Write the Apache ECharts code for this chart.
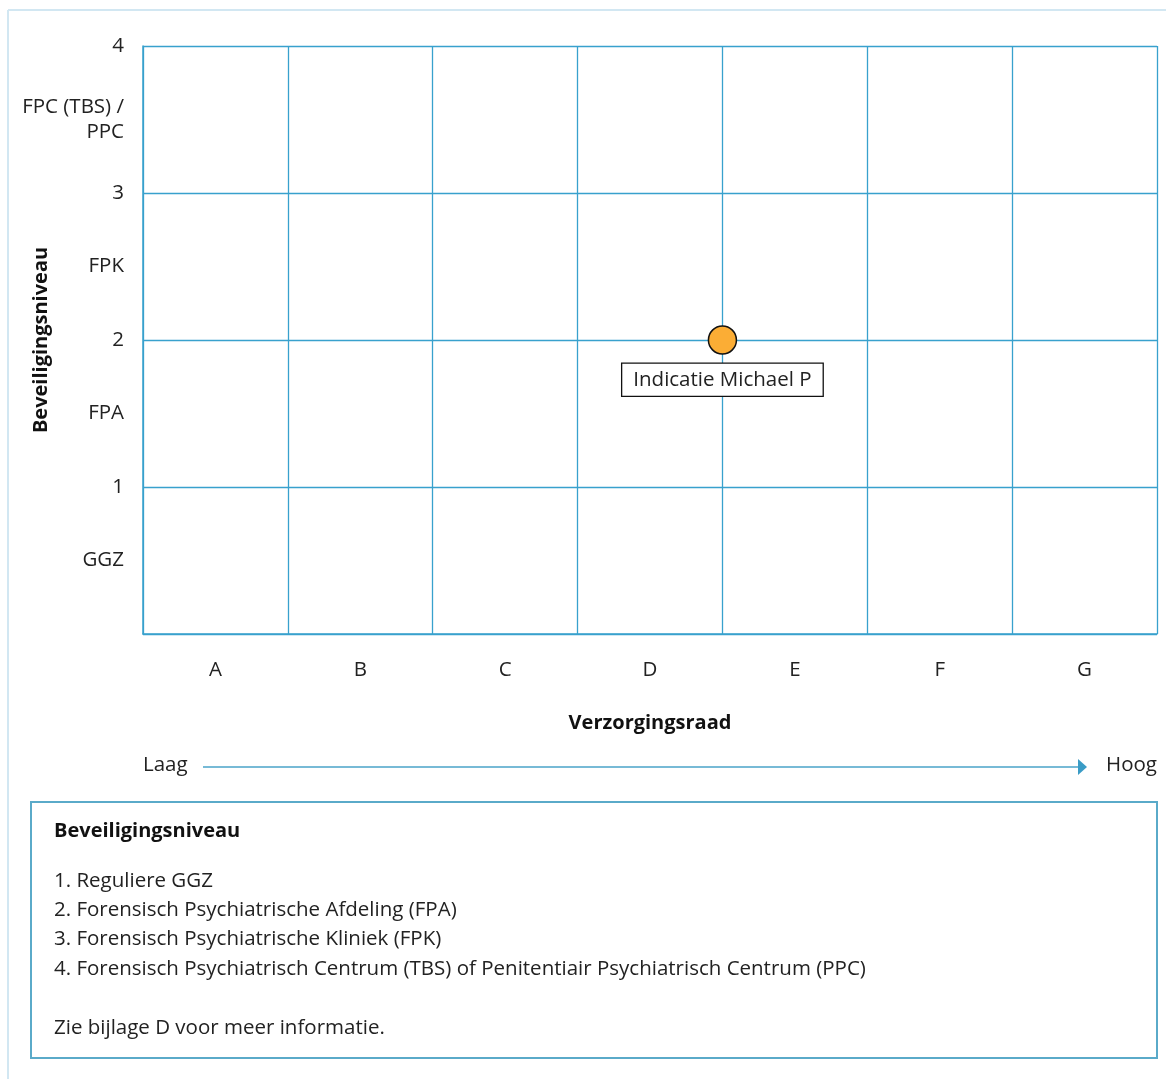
<!DOCTYPE html>
<html>
<head>
<meta charset="utf-8">
<script src="https://cdn.jsdelivr.net/npm/echarts@6/dist/echarts.min.js"></script>
<style>
html,body{margin:0;padding:0;background:#fff;}
#chart{width:1166px;height:1079px;}
</style>
</head>
<body>
<div id="chart"></div>
<script>
// ---- data ----
const xCategories = ['A', 'B', 'C', 'D', 'E', 'F', 'G'];
const yTickLabels = { 1: '1', 2: '2', 3: '3', 4: '4' };
const yLevelLabels = { 0.5: 'GGZ', 1.5: 'FPA', 2.5: 'FPK', 3.5: 'FPC (TBS) /\nPPC' };
const pointName = 'Indicatie Michael P';
const pointX = [4];
const pointY = [2];
const xAxisTitle = 'Verzorgingsraad';
const yAxisTitle = 'Beveiligingsniveau';
const scaleLow = 'Laag';
const scaleHigh = 'Hoog';
const legendTitle = 'Beveiligingsniveau';
const legendLines = [
  '1. Reguliere GGZ',
  '2. Forensisch Psychiatrische Afdeling (FPA)',
  '3. Forensisch Psychiatrische Kliniek (FPK)',
  '4. Forensisch Psychiatrisch Centrum (TBS) of Penitentiair Psychiatrisch Centrum (PPC)',
  '',
  'Zie bijlage D voor meer informatie.'
];

const FONT = '"Open Sans", "Noto Sans", sans-serif';
const GRIDC = '#38a1cd';
const TXT = '#222';
const FS = 20.5;
const FSB = 20;

const chart = echarts.init(document.getElementById('chart'), null, {renderer: 'canvas'});
const option = {
  backgroundColor: '#fff',
  animation: false,
  textStyle: {fontFamily: FONT},
  grid: {left: 143, top: 46, right: 9, bottom: 445, show: false, containLabel: false, outerBoundsMode: 'none'},
  xAxis: [
    {
      type: 'value', min: 0, max: 7, interval: 1,
      axisLabel: {show: false}, axisTick: {show: false},
      axisLine: {show: true, lineStyle: {color: GRIDC, width: 1.5}},
      splitLine: {show: true, lineStyle: {color: GRIDC, width: 1.3}}
    },
    {
      type: 'category', data: xCategories, position: 'bottom', boundaryGap: true,
      axisLine: {show: false}, axisTick: {show: false}, splitLine: {show: false},
      axisLabel: {color: TXT, fontSize: FS, fontFamily: FONT, margin: 26},
      name: xAxisTitle, nameLocation: 'middle', nameGap: 79, nameMoveOverlap: false,
      nameTextStyle: {color: '#111', fontSize: FSB, fontWeight: 'bold', fontFamily: FONT}
    }
  ],
  yAxis: [
    {
      type: 'value', min: 0, max: 4, interval: 1,
      axisLabel: {show: false}, axisTick: {show: false},
      axisLine: {show: true, lineStyle: {color: GRIDC, width: 1.5}},
      splitLine: {show: true, lineStyle: {color: GRIDC, width: 1.3}}
    },
    {
      type: 'value', min: 0, max: 4, interval: 0.5, position: 'left',
      axisLine: {show: false}, axisTick: {show: false}, splitLine: {show: false},
      axisLabel: {
        color: TXT, fontSize: FS, fontFamily: FONT, margin: 19, lineHeight: 25,
        formatter: function (v) {
          if (yTickLabels[v] !== undefined) return yTickLabels[v];
          if (yLevelLabels[v] !== undefined) return yLevelLabels[v];
          return '';
        }
      },
      name: yAxisTitle, nameLocation: 'middle', nameGap: 92, nameRotate: 90, nameMoveOverlap: false,
      nameTextStyle: {color: '#111', fontSize: FSB, fontWeight: 'bold', fontFamily: FONT}
    }
  ],
  series: [{
    type: 'scatter',
    xAxisIndex: 0, yAxisIndex: 0,
    data: pointX.map((x, i) => [x, pointY[i]]),
    symbolSize: 28,
    itemStyle: {color: '#fbad35', borderColor: '#111', borderWidth: 1.5, opacity: 1},
    label: {
      show: true, position: 'bottom', distance: 9,
      formatter: pointName,
      color: TXT, fontSize: FS, fontFamily: FONT,
      backgroundColor: '#fff', borderColor: '#111', borderWidth: 1.3,
      padding: [6, 11, 5, 11]
    },
    z: 10
  }],
  graphic: [
    // outer frame
    {type: 'line', shape: {x1: 8, y1: 10, x2: 1166, y2: 10}, style: {stroke: '#d2e7f2', lineWidth: 2}},
    {type: 'line', shape: {x1: 8, y1: 10, x2: 8, y2: 1079}, style: {stroke: '#d2e7f2', lineWidth: 2}},
    // low-high arrow
    {type: 'text', left: 143, top: 755, style: {text: scaleLow, fill: TXT, font: FS + 'px ' + FONT}},
    {type: 'line', shape: {x1: 203, y1: 767, x2: 1080, y2: 767}, style: {stroke: '#4aa3c8', lineWidth: 1.5}},
    {type: 'polygon', shape: {points: [[1078, 759], [1087, 767], [1078, 775]]}, style: {fill: '#3a9cc6'}},
    {type: 'text', right: 9, top: 755, style: {text: scaleHigh, fill: TXT, font: FS + 'px ' + FONT}},
    // legend box
    {type: 'rect', shape: {x: 31, y: 802, width: 1126, height: 256}, style: {fill: '#fff', stroke: '#5aaac9', lineWidth: 2}},
    {type: 'text', left: 54, top: 821, style: {text: legendTitle, fill: '#111', font: 'bold ' + FSB + 'px ' + FONT}},
    {type: 'text', left: 54, top: 866, style: {text: legendLines.join('\n'), fill: TXT, font: FS + 'px ' + FONT, lineHeight: 29.4}}
  ]
};
chart.setOption(option);
</script>
</body>
</html>
